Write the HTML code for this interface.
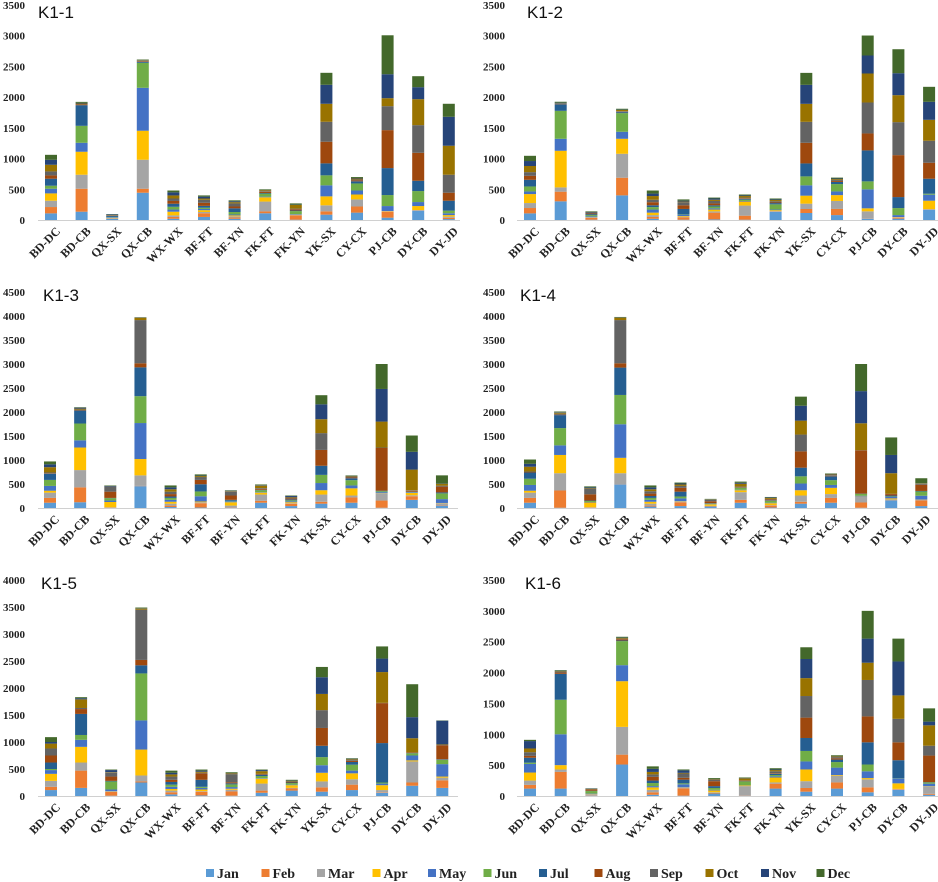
<!DOCTYPE html>
<html><head><meta charset="utf-8">
<style>
html,body{margin:0;padding:0;background:#fff;}
svg{display:block;}
.tick{font-family:"Liberation Serif",serif;font-weight:bold;font-size:11px;fill:#222;}
.cat{font-family:"Liberation Serif",serif;font-weight:bold;font-size:12px;fill:#222;}
.title{font-family:"Liberation Sans",sans-serif;font-size:17px;fill:#111;}
.leg{font-family:"Liberation Serif",serif;font-weight:bold;font-size:14px;fill:#222;}
</style></head>
<body>
<svg id="chart" width="938" height="882" viewBox="0 0 938 882" xmlns="http://www.w3.org/2000/svg"></svg>
<script>
const categories = ["BD-DC","BD-CB","QX-SX","QX-CB","WX-WX","BF-FT","BF-YN","FK-FT","FK-YN","YK-SX","CY-CX","PJ-CB","DY-CB","DY-JD"];
const months = ["Jan","Feb","Mar","Apr","May","Jun","Jul","Aug","Sep","Oct","Nov","Dec"];
const panelTitles = ["K1-1","K1-2","K1-3","K1-4","K1-5","K1-6"];
const panelMax = [3500,3500,4500,4500,4000,3500];
const tickStep = 500;

const k1_1 = [
[108,103,103,119,76,49,114,54,65,108,81,81],
[135,374,228,374,146,276,336,11,5,11,11,16],
[20,5,5,5,10,5,15,5,5,5,10,5],
[444,65,472,472,699,407,16,11,5,5,5,11],
[20,30,25,60,35,45,50,45,40,50,50,30],
[50,60,20,30,20,20,30,50,50,20,30,20],
[20,20,20,15,15,40,60,30,50,20,15,15],
[110,30,160,70,10,50,10,20,10,15,5,10],
[5,70,5,5,10,50,10,20,10,60,5,20],
[87,54,98,146,179,163,195,352,325,293,309,195],
[120,100,115,80,65,115,35,15,15,15,10,15],
[38,98,5,5,81,179,439,618,390,130,390,634],
[152,5,5,65,65,179,168,455,450,423,195,179],
[15,20,20,25,30,42,162,130,293,472,471,212]];
const k1_2 = [
[108,87,81,146,43,81,108,65,60,100,81,85],
[304,157,70,596,195,455,103,5,10,5,10,15],
[5,30,5,5,15,20,15,10,10,5,10,10],
[401,287,390,244,114,304,16,5,10,20,5,15],
[20,30,30,40,50,40,30,50,40,60,40,50],
[5,40,10,10,20,5,90,60,50,10,15,20],
[10,110,20,30,20,30,20,30,40,20,20,15],
[5,65,165,65,10,20,15,10,10,25,10,15],
[135,5,5,15,10,85,20,10,20,20,10,15],
[114,65,87,130,168,146,211,336,341,293,309,195],
[80,100,130,95,60,120,35,15,15,15,10,15],
[22,5,114,49,309,130,504,276,504,472,293,325],
[22,16,5,5,32,114,179,683,537,439,358,390],
[168,5,5,136,98,16,244,260,358,341,293,244]];
const k1_3 = [
[110,100,110,40,100,125,130,10,15,110,60,60],
[120,310,360,470,150,350,270,10,10,20,20,10],
[5,5,5,110,30,50,5,130,100,5,15,10],
[455,5,220,340,750,560,600,85,900,50,5,5],
[20,30,40,40,40,40,30,50,50,50,40,40],
[10,90,20,15,110,100,150,90,60,20,10,25],
[5,5,40,70,20,10,20,90,80,10,10,10],
[110,40,130,40,10,40,10,20,15,50,10,15],
[40,50,10,20,20,20,20,20,20,10,20,10],
[90,40,150,90,150,170,190,330,350,290,310,190],
[110,110,40,150,60,110,40,15,10,15,10,10],
[5,150,150,5,20,20,10,890,10,540,680,520],
[170,75,20,50,15,5,5,20,10,430,370,340],
[50,10,40,5,80,120,20,120,20,40,5,170]];
const k1_4 = [
[110,100,110,40,120,130,130,10,10,100,60,90],
[5,360,360,380,200,360,270,10,20,20,10,15],
[5,5,5,100,10,20,10,130,120,10,15,20],
[490,5,230,320,700,610,570,90,900,50,5,10],
[30,20,40,40,40,40,40,50,50,40,40,40],
[40,80,10,10,60,40,100,80,40,30,20,20],
[30,10,5,30,5,10,10,40,30,5,5,10],
[110,60,160,40,10,40,5,10,10,60,20,25],
[10,40,10,40,10,40,10,20,10,20,10,10],
[90,40,130,110,140,150,180,340,350,290,310,190],
[110,100,80,130,60,100,80,10,15,15,10,10],
[5,110,120,5,15,40,5,900,5,560,670,565],
[160,5,15,20,40,10,10,30,5,430,380,365],
[40,120,10,5,80,90,10,130,20,5,5,105]];
const k1_5 = [
[110,60,110,130,70,20,120,130,130,90,30,90],
[150,320,150,290,130,90,390,90,20,160,20,20],
[5,70,10,5,30,150,10,80,70,10,40,10],
[250,20,110,480,540,870,150,100,930,20,5,15],
[30,40,30,30,40,40,50,40,60,40,30,40],
[10,70,10,30,30,20,130,120,10,20,20,20],
[5,80,30,20,30,50,20,20,150,15,5,15],
[60,40,130,90,10,40,20,10,10,50,20,10],
[100,40,10,50,10,30,10,10,10,10,5,15],
[80,80,110,160,140,150,210,330,330,300,310,190],
[110,100,100,110,50,110,50,20,15,15,10,10],
[60,10,40,90,30,20,730,740,5,570,250,225],
[190,60,390,20,90,40,5,10,5,260,390,610],
[150,140,50,20,230,80,10,260,5,10,440,5]];
const k1_6 = [
[120,60,70,130,140,20,80,30,60,60,120,20],
[120,270,40,70,500,560,420,20,10,10,10,10],
[5,5,20,5,5,40,5,20,5,5,5,5],
[510,160,450,740,260,390,10,20,10,10,5,15],
[20,40,40,40,20,50,40,60,40,40,50,40],
[5,120,10,5,50,15,60,30,70,10,40,15],
[40,10,10,30,10,30,30,80,20,10,5,15],
[5,5,150,10,5,60,5,10,5,30,5,10],
[120,80,20,80,20,20,20,10,30,20,10,20],
[70,60,110,190,130,170,210,330,350,290,310,190],
[120,100,110,10,120,90,40,20,20,10,5,15],
[60,80,130,20,110,110,360,420,590,280,390,450],
[100,10,5,90,80,5,290,290,380,380,550,370],
[20,15,120,5,40,20,5,430,160,330,60,215]];
const panelData = [k1_1,k1_2,k1_3,k1_4,k1_5,k1_6];

const colors = ["#5B9BD5","#ED7D31","#A5A5A5","#FFC000","#4472C4","#70AD47","#255E91","#9E480E","#636363","#997300","#264478","#43682B"];
const layouts = [
 {c0:51,step:30.6,base:220,top:5,labelX:25,axL:38,axR:460,tx:38,ty:18},
 {c0:530,step:30.7,base:220,top:5,labelX:505,axL:517,axR:938,tx:527,ty:18},
 {c0:50,step:30.15,base:508,top:292,labelX:25,axL:38,axR:458,tx:43,ty:301},
 {c0:530,step:30.1,base:508,top:292,labelX:505,axL:517,axR:938,tx:520,ty:301},
 {c0:51,step:30.1,base:796,top:580,labelX:25,axL:38,axR:458,tx:41,ty:589},
 {c0:530,step:30.7,base:796,top:580,labelX:505,axL:517,axR:938,tx:525,ty:589}
];
const NS="http://www.w3.org/2000/svg";
const svg=document.getElementById('chart');
function mk(tag,attrs,parent){const e=document.createElementNS(NS,tag);for(const k in attrs)e.setAttribute(k,attrs[k]);(parent||svg).appendChild(e);return e;}

panelData.forEach((data,p)=>{
  const L=layouts[p], max=panelMax[p];
  const g=mk('g',{});
  
  
  const yScale=v=>L.base-(v/max)*(L.base-L.top);
  const xScale=i=>L.c0+i*L.step;
  const t=mk('text',{x:L.tx,y:L.ty,class:'title'},g);
  t.textContent=panelTitles[p];
  
  
  for(let v=0;v<=max;v+=tickStep){
    const tk=mk('text',{x:L.labelX,y:yScale(v)+4,'text-anchor':'end',class:'tick'},g);
    tk.textContent=v;
    
    
  }
  data.forEach((row,i)=>{
    let cum=0;
    const cx=xScale(i);
    row.forEach((val,m)=>{
      const y1=yScale(cum), y2=yScale(cum+val);
      const r=mk('rect',{x:cx-6,y:y2,width:12,height:Math.max(0,y1-y2),fill:colors[m]},g);
      
      
      cum+=val;
    });
    const lb=mk('text',{x:cx+10,y:L.base+12,'text-anchor':'end',class:'cat',transform:`rotate(-45 ${cx+10} ${L.base+12})`},g);
    lb.textContent=categories[i];
    
    
  });
  const ax=mk('line',{x1:L.axL,x2:L.axR,y1:L.base+0.5,y2:L.base+0.5,stroke:'#d0d0d0','stroke-width':1},g);
  
  
});

const lg=mk('g',{});


months.forEach((m,i)=>{
  const x=206+i*55.5;
  const e=mk('g',{},lg);
  
  
  mk('rect',{x:x,y:869,width:8,height:8,fill:colors[i]},e);
  const t=mk('text',{x:x+11,y:878,class:'leg'},e);
  t.textContent=m;
});
</script>
</body></html>
